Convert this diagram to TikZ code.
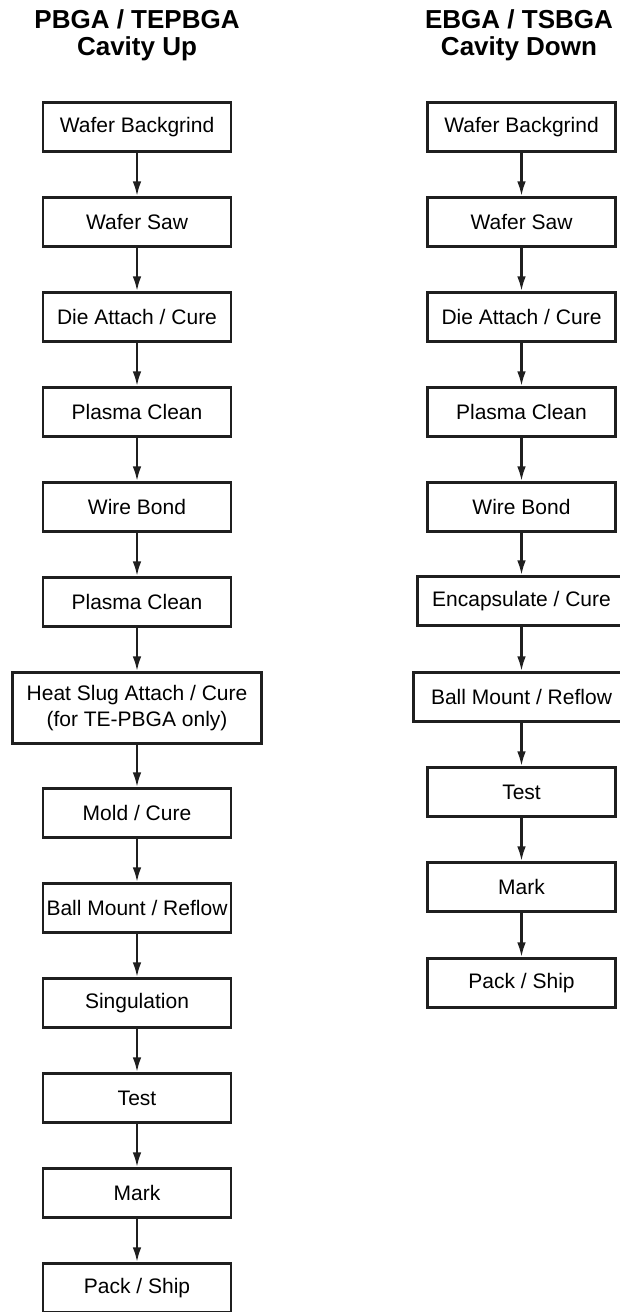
\documentclass[tikz,border=0pt]{standalone}
\usepackage{fontspec}
\setmainfont{Liberation Sans}
\usetikzlibrary{arrows.meta}
\begin{document}
\begin{tikzpicture}[x=0.75pt,y=-0.75pt,
  stepbox/.style={draw=black!88, line width=2.2pt, minimum width=141pt, minimum height=36.8pt,
    inner sep=0pt, font=\fontsize{15.75pt}{19pt}\selectfont, align=center},
  flow/.style={draw=black!88, line width=1.7pt, -{Latex[length=11pt,width=6.5pt]}},
  head/.style={font=\fontsize{19.5pt}{20.5pt}\selectfont\bfseries, align=center, inner sep=0pt, anchor=north}]
\useasboundingbox (0,0) rectangle (620,1312);
% headers
\node[head] (hl) at (137,9) {PBGA / TEPBGA\\Cavity Up};
\node[head] (hr) at (519,9) {EBGA / TSBGA\\Cavity Down};
% left column
\node[stepbox] (l1) at (137,127) {Wafer Backgrind};
\node[stepbox] (l2) at (137,222) {Wafer Saw};
\node[stepbox] (l3) at (137,317) {Die Attach / Cure};
\node[stepbox] (l4) at (137,412) {Plasma Clean};
\node[stepbox] (l5) at (137,507) {Wire Bond};
\node[stepbox] (l6) at (137,602) {Plasma Clean};
\node[stepbox, minimum width=187pt, minimum height=53.3pt] (l7) at (137,708) {Heat Slug Attach / Cure\\(for TE-PBGA only)};
\node[stepbox] (l8) at (137,813) {Mold / Cure};
\node[stepbox] (l9) at (137,908) {Ball Mount / Reflow};
\node[stepbox] (l10) at (137,1003) {Singulation};
\node[stepbox] (l11) at (137,1098) {Test};
\node[stepbox] (l12) at (137,1193) {Mark};
\node[stepbox] (l13) at (137,1288) {Pack / Ship};
% right column
\node[stepbox] (r1) at (521.5,127) {Wafer Backgrind};
\node[stepbox] (r2) at (521.5,222) {Wafer Saw};
\node[stepbox] (r3) at (521.5,317) {Die Attach / Cure};
\node[stepbox] (r4) at (521.5,412) {Plasma Clean};
\node[stepbox] (r5) at (521.5,507) {Wire Bond};
\node[stepbox, minimum width=156pt] (r6) at (521.5,601) {Encapsulate / Cure};
\node[stepbox, minimum width=162pt] (r7) at (521.5,697) {Ball Mount / Reflow};
\node[stepbox] (r8) at (521.5,792) {Test};
\node[stepbox] (r9) at (521.5,887) {Mark};
\node[stepbox] (r10) at (521.5,983) {Pack / Ship};
% connectors
\foreach \a/\b in {1/2,2/3,3/4,4/5,5/6,6/7,7/8,8/9,9/10,10/11,11/12,12/13}
  \draw[flow] (l\a.south) -- (l\b.north);
\foreach \a/\b in {1/2,2/3,3/4,4/5,5/6,6/7,7/8,8/9,9/10}
  \draw[flow] (r\a.south) -- (r\b.north);
\end{tikzpicture}
\end{document}
